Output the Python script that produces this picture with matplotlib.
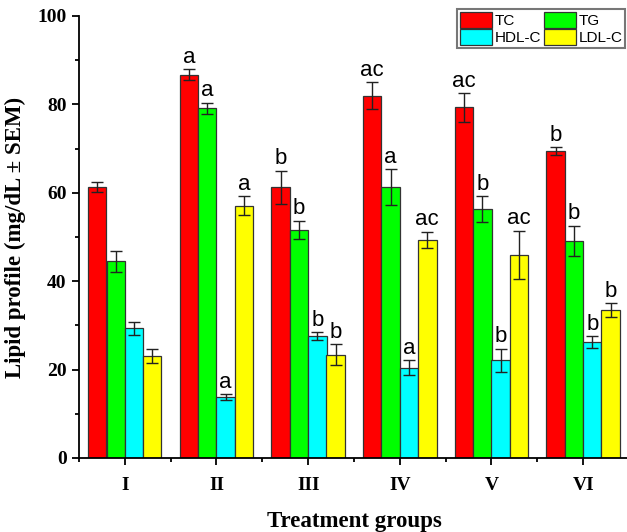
import matplotlib
matplotlib.use("Agg")
import matplotlib.pyplot as plt
import numpy as np
from matplotlib.ticker import MultipleLocator, FixedLocator

groups = ["I", "II", "III", "IV", "V", "VI"]
series = ["TC", "TG", "HDL-C", "LDL-C"]
colors = ["#ff0000", "#00ff00", "#00ffff", "#ffff00"]

tc = [61.3, 86.7, 61.2, 82.0, 79.3, 69.5]
tg = [44.5, 79.1, 51.6, 61.3, 56.4, 49.2]
hdl = [29.3, 13.8, 27.6, 20.4, 22.1, 26.2]
ldl = [23.1, 57.1, 23.4, 49.3, 45.9, 33.4]

tc_err = [1.2, 1.2, 3.8, 3.0, 3.2, 0.9]
tg_err = [2.4, 1.3, 2.1, 4.0, 2.9, 3.4]
hdl_err = [1.4, 0.7, 0.9, 1.7, 2.6, 1.3]
ldl_err = [1.5, 2.1, 2.4, 1.9, 5.5, 1.6]

tc_sig = ["", "a", "b", "ac", "ac", "b"]
tg_sig = ["", "a", "b", "a", "b", "b"]
hdl_sig = ["", "a", "b", "a", "b", "b"]
ldl_sig = ["", "a", "b", "ac", "ac", "b"]

values = [tc, tg, hdl, ldl]
errors = [tc_err, tg_err, hdl_err, ldl_err]
letters = [tc_sig, tg_sig, hdl_sig, ldl_sig]

serif = ["Liberation Serif", "DejaVu Serif"]
sans = ["Liberation Sans", "DejaVu Sans"]

fig = plt.figure(figsize=(6.27, 5.32), dpi=100)
ax = fig.add_axes([79 / 627, 74 / 532, 550 / 627, 442 / 532])

x = np.arange(1, len(groups) + 1)
width = 0.2
offsets = [-0.3, -0.1, 0.1, 0.3]

handles = []
for vals, errs, labs, col, off, name in zip(values, errors, letters, colors, offsets, series):
    b = ax.bar(x + off, vals, width, color=col, edgecolor="#333333", linewidth=0.9,
               label=name, zorder=2)
    handles.append(b)
    ax.errorbar(x + off, vals, yerr=errs, fmt="none", ecolor="#222222", elinewidth=1,
                capsize=4, capthick=1, zorder=3)
    for xi, v, e, t in zip(x + off, vals, errs, labs):
        if t:
            ax.text(xi, v + e + 0.3, t, ha="center", va="bottom", fontsize=16,
                    family=sans, zorder=4)

ax.set_xlim(0.5, 6.5)
ax.set_ylim(0, 100)
ax.spines["top"].set_visible(False)
ax.spines["right"].set_visible(False)
ax.spines["left"].set_linewidth(1.3)
ax.spines["bottom"].set_linewidth(1.3)

ax.set_xticks(x)
ax.set_xticklabels(groups)
ax.xaxis.set_minor_locator(FixedLocator(np.arange(0.5, 7, 1.0)))
ax.yaxis.set_major_locator(MultipleLocator(20))
ax.yaxis.set_minor_locator(MultipleLocator(10))
ax.tick_params(axis="both", which="major", direction="out", length=5, width=1.3)
ax.tick_params(axis="both", which="minor", direction="out", length=3, width=1.3)
ax.tick_params(axis="x", pad=9)
ax.tick_params(axis="y", pad=4)
for lab in ax.get_xticklabels() + ax.get_yticklabels():
    lab.set_family(serif)
    lab.set_fontweight("bold")
    lab.set_fontsize(14)

ax.set_xlabel("Treatment groups", family=serif, fontweight="bold", fontsize=16.5, labelpad=12)
ax.set_ylabel("Lipid profile (mg/dL \u00b1 SEM)", family=serif, fontweight="bold",
              fontsize=16.5, labelpad=8)

# row-major order: TC, TG / HDL-C, LDL-C
order = [0, 2, 1, 3]
leg = fig.legend(handles=[handles[i] for i in order], labels=[series[i] for i in order],
                 ncol=2, loc="upper left",
                 bbox_to_anchor=(457 / 627, 1 - 9 / 532), frameon=True, fancybox=False,
                 prop={"family": sans, "size": 11}, handlelength=2.1, handleheight=1.25,
                 handletextpad=0.15, columnspacing=0.2, labelspacing=0.05,
                 borderpad=0.2, borderaxespad=0)
leg.get_frame().set_edgecolor("#555555")
leg.get_frame().set_linewidth(1.5)

fig.savefig("out.png", dpi=100)
